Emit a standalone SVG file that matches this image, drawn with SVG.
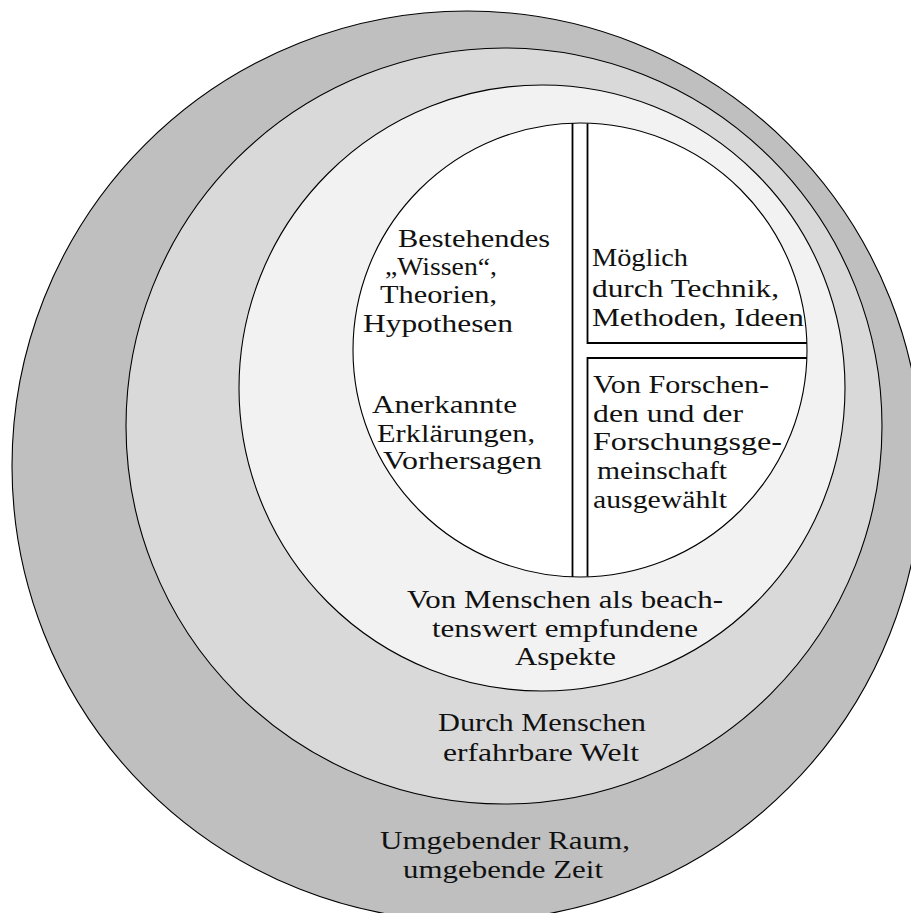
<svg xmlns="http://www.w3.org/2000/svg" width="911" height="913" viewBox="0 0 911 913">
  <style>
    .ring { stroke: #000; stroke-width: 1.1; }
    .divider { fill: none; stroke: #000; stroke-width: 1.8; stroke-linecap: butt; }
    text { font-family: "Liberation Serif", "Times New Roman", "DejaVu Serif", serif; font-size: 26px; fill: #111; }
  </style>
  <rect width="911" height="913" fill="#fff"/>

  <!-- Outermost ring: surrounding space and time -->
  <g id="umgebung">
    <circle class="ring" cx="467" cy="466" r="455" fill="#bfbfbf"/>
    <text x="380" y="849" textLength="250" lengthAdjust="spacingAndGlyphs">Umgebender Raum,</text>
    <text x="403" y="878" textLength="200" lengthAdjust="spacingAndGlyphs">umgebende Zeit</text>
  </g>

  <!-- World perceivable by humans -->
  <g id="erfahrbare-welt">
    <circle class="ring" cx="504" cy="426" r="378" fill="#d9d9d9"/>
    <text x="438" y="731" textLength="208" lengthAdjust="spacingAndGlyphs">Durch Menschen</text>
    <text x="443" y="761" textLength="196" lengthAdjust="spacingAndGlyphs">erfahrbare Welt</text>
  </g>

  <!-- Aspects considered noteworthy -->
  <g id="beachtenswert">
    <circle class="ring" cx="542" cy="388" r="303" fill="#f2f2f2"/>
    <text x="407" y="608" textLength="316" lengthAdjust="spacingAndGlyphs">Von Menschen als beach-</text>
    <text x="432" y="637" textLength="266" lengthAdjust="spacingAndGlyphs">tenswert empfundene</text>
    <text x="515" y="665" textLength="101" lengthAdjust="spacingAndGlyphs">Aspekte</text>
  </g>

  <!-- Core circle -->
  <g id="kern">
    <circle class="ring" cx="580" cy="350" r="227" fill="#fff"/>
  </g>

  <!-- Dividing channels inside the core -->
  <g id="trennlinien">
    <path class="divider" d="M572.5 123.1 V576.9"/>
    <path class="divider" d="M587.5 123.4 V343 H806.9"/>
    <path class="divider" d="M806.9 358 H587.5 V576.6"/>
  </g>

  <!-- Left half: existing knowledge -->
  <g id="wissen">
    <text x="398" y="247" textLength="152" lengthAdjust="spacingAndGlyphs">Bestehendes</text>
    <text x="385" y="275" textLength="112" lengthAdjust="spacingAndGlyphs">„Wissen“,</text>
    <text x="380" y="303" textLength="117" lengthAdjust="spacingAndGlyphs">Theorien,</text>
    <text x="363" y="332" textLength="150" lengthAdjust="spacingAndGlyphs">Hypothesen</text>
    <text x="372" y="413" textLength="145" lengthAdjust="spacingAndGlyphs">Anerkannte</text>
    <text x="377" y="442" textLength="158" lengthAdjust="spacingAndGlyphs">Erklärungen,</text>
    <text x="383" y="469" textLength="159" lengthAdjust="spacingAndGlyphs">Vorhersagen</text>
  </g>

  <!-- Upper right: feasible -->
  <g id="moeglich">
    <text x="592" y="266" textLength="96" lengthAdjust="spacingAndGlyphs">Möglich</text>
    <text x="592" y="297" textLength="187" lengthAdjust="spacingAndGlyphs">durch Technik,</text>
    <text x="592" y="326" textLength="212" lengthAdjust="spacingAndGlyphs">Methoden, Ideen</text>
  </g>

  <!-- Lower right: selected -->
  <g id="ausgewaehlt">
    <text x="593" y="393" textLength="176" lengthAdjust="spacingAndGlyphs">Von Forschen-</text>
    <text x="593" y="422" textLength="150" lengthAdjust="spacingAndGlyphs">den und der</text>
    <text x="593" y="450" textLength="189" lengthAdjust="spacingAndGlyphs">Forschungsge-</text>
    <text x="597" y="479" textLength="130" lengthAdjust="spacingAndGlyphs">meinschaft</text>
    <text x="593" y="508" textLength="134" lengthAdjust="spacingAndGlyphs">ausgewählt</text>
  </g>
</svg>
